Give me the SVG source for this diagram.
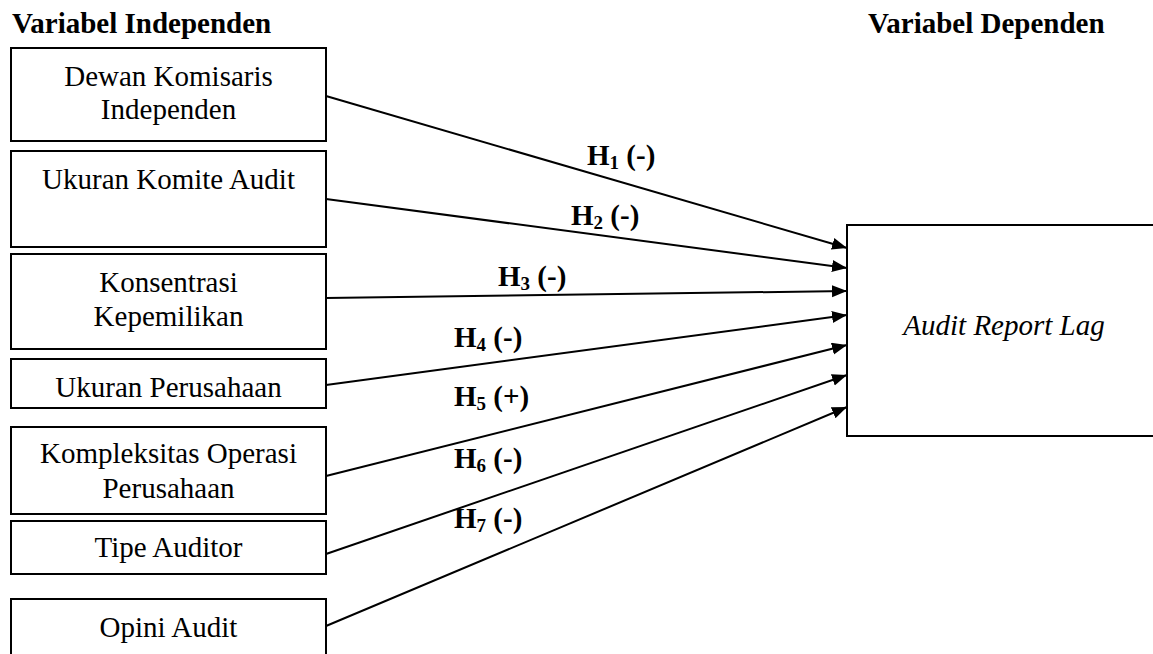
<svg xmlns="http://www.w3.org/2000/svg" width="1153" height="654" viewBox="0 0 1153 654">
<style>
  .box { fill: #fff; stroke: #000; stroke-width: 2; }
  .t { font-family: "Liberation Serif", "Times New Roman", serif; font-size: 29px; fill: #000; }
  .c { text-anchor: middle; }
  .b { font-weight: bold; }
  .i { font-style: italic; }
  .sub { font-size: 19px; }
  .conn line { stroke: #000; stroke-width: 2; marker-end: url(#arr); }
</style>
<defs>
  <marker id="arr" markerUnits="userSpaceOnUse" markerWidth="16" markerHeight="13" refX="15" refY="6" orient="auto">
    <path d="M0,0 L15,6 L0,12 z" fill="#000"/>
  </marker>
</defs>
<rect width="1153" height="654" fill="#fff"/>
<text class="t b" x="12" y="33">Variabel Independen</text>
<text class="t b" x="868" y="33">Variabel Dependen</text>

<g id="n1"><rect class="box" x="11" y="48" width="315" height="93"/>
  <text class="t c" x="168.5" y="86">Dewan Komisaris</text>
  <text class="t c" x="168.5" y="119">Independen</text></g>
<g id="n2"><rect class="box" x="11" y="151" width="315" height="96"/>
  <text class="t c" x="168.5" y="189">Ukuran Komite Audit</text></g>
<g id="n3"><rect class="box" x="11" y="254" width="315" height="95"/>
  <text class="t c" x="168.5" y="292">Konsentrasi</text>
  <text class="t c" x="168.5" y="326">Kepemilikan</text></g>
<g id="n4"><rect class="box" x="11" y="359" width="315" height="49"/>
  <text class="t c" x="168.5" y="397">Ukuran Perusahaan</text></g>
<g id="n5"><rect class="box" x="11" y="427" width="315" height="87"/>
  <text class="t c" x="168.5" y="463">Kompleksitas Operasi</text>
  <text class="t c" x="168.5" y="498">Perusahaan</text></g>
<g id="n6"><rect class="box" x="11" y="521" width="315" height="53"/>
  <text class="t c" x="168.5" y="557">Tipe Auditor</text></g>
<g id="n7"><rect class="box" x="11" y="599" width="315" height="70"/>
  <text class="t c" x="168.5" y="637">Opini Audit</text></g>
<g id="dep"><rect class="box" x="847" y="225" width="320" height="211"/>
  <text class="t i c" x="1004" y="335">Audit Report Lag</text></g>

<g class="conn" id="connectors">
  <line x1="326" y1="96" x2="847" y2="248"/>
  <line x1="326" y1="199" x2="847" y2="268"/>
  <line x1="326" y1="298" x2="847" y2="291"/>
  <line x1="326" y1="385" x2="847" y2="315"/>
  <line x1="326" y1="476" x2="847" y2="345"/>
  <line x1="326" y1="554" x2="847" y2="375"/>
  <line x1="326" y1="626" x2="847" y2="407"/>
</g>
<g id="labels">
  <text class="t b" x="587" y="165">H<tspan class="sub" dy="4">1</tspan><tspan dy="-4"> (-)</tspan></text>
  <text class="t b" x="571" y="225">H<tspan class="sub" dy="4">2</tspan><tspan dy="-4"> (-)</tspan></text>
  <text class="t b" x="498" y="286">H<tspan class="sub" dy="4">3</tspan><tspan dy="-4"> (-)</tspan></text>
  <text class="t b" x="454" y="347">H<tspan class="sub" dy="4">4</tspan><tspan dy="-4"> (-)</tspan></text>
  <text class="t b" x="454" y="406">H<tspan class="sub" dy="4">5</tspan><tspan dy="-4"> (+)</tspan></text>
  <text class="t b" x="454" y="468">H<tspan class="sub" dy="4">6</tspan><tspan dy="-4"> (-)</tspan></text>
  <text class="t b" x="454" y="528">H<tspan class="sub" dy="4">7</tspan><tspan dy="-4"> (-)</tspan></text>
</g>
</svg>
